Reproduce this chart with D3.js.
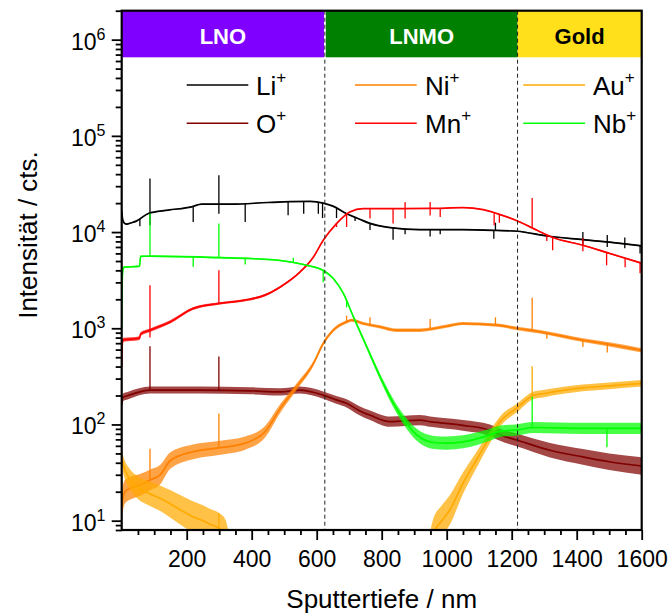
<!DOCTYPE html>
<html>
<head>
<meta charset="utf-8">
<script src="https://cdn.jsdelivr.net/npm/d3@7"></script>
<style>
  html, body { margin: 0; padding: 0; background: #fff; }
  svg { display: block; }
  text { font-family: "Liberation Sans", Arial, Helvetica, sans-serif; }
</style>
</head>
<body>
<svg id="chart" width="672" height="616"></svg>
<script>
// ---------------- DATA ----------------
const xTickValues = [200, 400, 600, 800, 1000, 1200, 1400, 1600];
const yTickExponents = [1, 2, 3, 4, 5, 6];

const layerNames  = ["LNO", "LNMO", "Gold"];
const layerBounds = [0, 625, 1218, 1600];       // nm
const layerColors = ["#8000ff", "#008000", "#ffe01a"];
const layerTextColors = ["#ffffff", "#ffffff", "#000000"];

const seriesNames  = ["Li", "O", "Ni", "Mn", "Au", "Nb"];
const seriesColors = ["#000000", "#800000", "#ff8000", "#ff0000", "#ffaa00", "#00ff00"];

// [depth nm, intensity cts]
const liData = [[0,16500],[3,13500],[8,12400],[15,12100],[30,12500],[45,13000],[82,15600],[143,16900],
  [215,18300],[246,19500],[338,19500],[450,20300],[520,20700],[580,20800],[620,20000],[650,18600],
  [692,15500],[730,13700],[764,12300],[826,11140],[918,10600],[1050,10600],[1154,10400],[1218,10200],
  [1308,9100],[1419,8350],[1500,7850],[1600,7200]];
const oData = [[0,160],[3,190],[20,200],[87,228],[241,228],[395,224],[488,218],[548,228],[620,202],
  [660,180],[692,166],[730,140],[764,125],[826,107],[918,111],[949,107],[1050,98],[1133,87],[1164,78],
  [1215,69],[1318,54],[1419,46],[1500,41],[1600,37]];
const niData = [[0,15],[10,20],[30,22],[56,23.5],[87,26.5],[118,30],[149,42],[219,52],[299,57],[380,64],
  [441,84],[488,147],[538,246],[590,431],[620,695],[651,955],[692,1165],[708,1214],[743,1122],[795,1035],
  [846,955],[918,955],[1000,1050],[1050,1120],[1155,1077],[1218,995],[1287,918],[1419,752],[1500,680],[1600,590]];
const mnData = [[0,400],[2,700],[5,760],[30,770],[55,790],[58,870],[87,955],[149,1165],[219,1600],
  [299,1810],[380,1960],[441,2210],[488,2690],[549,3850],[590,5510],[620,8220],[661,12250],[702,16180],
  [743,17540],[800,17540],[949,17600],[1050,17950],[1112,17130],[1155,15560],[1218,13040],[1278,10440],
  [1327,8770],[1419,7300],[1502,5980],[1600,4750]];
const auData = [[0,45],[5,38],[25,27],[50,22],[87,19],[120,17],[149,15],[180,13],[219,11],[250,10],
  [271,9.2],[300,8.3],[320,7],[345,3],[600,2],[930,3],[960,7.5],[985,10],[1010,13],[1050,24.5],
  [1092,43],[1133,74],[1164,107],[1218,150],[1266,200],[1300,210],[1419,240],[1500,252],[1600,268]];
const nbData = [[0,1000],[2,3500],[6,4300],[55,4420],[58,5600],[87,5610],[299,5430],[395,5310],[488,5060],
  [569,4520],[620,3990],[651,3290],[682,2300],[713,1313],[754,641],[795,313],[836,166],[877,102],[908,78],
  [960,65],[1000,64],[1050,66],[1133,78],[1164,85],[1218,88],[1266,93],[1419,91],[1600,91]];

// spikes: [depth nm, extreme intensity]
const liSpikes = [[56,11500],[87,36000],[87,11800],[220,12700],[299,39000],[299,15500],[380,12700],
  [512,15000],[560,15500],[605,15500],[618,14000],[661,14000],[718,13000],[764,10500],[835,8300],
  [872,9500],[949,9000],[980,9500],[1145,8500],[1150,12500],[1419,10000],[1419,7200],[1494,9300],
  [1494,7000],[1548,8800],[1548,6800],[1595,6000]];
const oSpikes = [[87,650],[299,510]];
const niSpikes = [[87,56],[299,130],[692,1350],[764,1300],[949,1250],[1150,1300],[1263,2080],[1308,780],[1419,640],[1494,560]];
const mnSpikes = [[87,2800],[87,800],[299,4000],[661,11300],[692,11300],[764,13800],[835,12250],
  [872,20500],[872,13800],[949,20500],[949,14900],[980,14300],[1146,11800],[1162,12500],[1263,22600],
  [1308,8090],[1326,6470],[1419,8600],[1419,6300],[1492,4520],[1549,4300],[1595,3730]];
const auSpikes = [[299,12],[1263,404]];
const nbSpikes = [[87,15600],[299,12300],[220,4340],[380,4600],[528,5400],[620,3000],[692,1650],[1263,194],[1493,58]];

const seriesData   = [liData, oData, niData, mnData, auData, nbData];
const seriesSpikes = [liSpikes, oSpikes, niSpikes, mnSpikes, auSpikes, nbSpikes];

// ---------------- LAYOUT ----------------
const L = 121.7, R = 641.7, T = 10.7, B = 530;
const bandBottom = 57.3;
const svg = d3.select("#chart");

const x = d3.scaleLinear().domain([0, 1600]).range([L, R]);
const y = d3.scaleLog().domain([8, 2e6]).range([B, T]);

svg.append("defs").append("clipPath").attr("id", "plotclip")
  .append("rect").attr("x", L).attr("y", T).attr("width", R - L).attr("height", B - T);

// layer bands
const bands = svg.append("g");
layerNames.forEach((name, i) => {
  const x0 = x(layerBounds[i]) + (i === 1 ? 1 : 0);
  const x1 = x(layerBounds[i + 1]) - (i === 0 ? 0.8 : 0);
  bands.append("rect").attr("x", x0).attr("y", T).attr("width", x1 - x0).attr("height", bandBottom - T)
    .attr("fill", layerColors[i]);
  bands.append("text").attr("x", (x0 + x1) / 2).attr("y", 44.3).attr("text-anchor", "middle")
    .attr("font-size", 22).attr("font-weight", "bold").attr("fill", layerTextColors[i]).text(name);
});

// series
const plot = svg.append("g").attr("clip-path", "url(#plotclip)");
const noise = v => Math.min(0.16, 0.55 / Math.sqrt(v));
seriesData.forEach((data, i) => {
  const col = seriesColors[i];
  const area = d3.area()
    .x(d => x(d[0]))
    .y0(d => y(d[1] * Math.pow(10, -noise(d[1]))))
    .y1(d => y(d[1] * Math.pow(10, noise(d[1]))))
    .curve(d3.curveMonotoneX);
  plot.append("path").datum(data).attr("d", area).attr("fill", col).attr("fill-opacity", 0.72);
  const line = d3.line().x(d => x(d[0])).y(d => y(d[1])).curve(d3.curveMonotoneX);
  plot.append("path").datum(data).attr("d", line).attr("fill", "none").attr("stroke", col)
    .attr("stroke-width", 1.7);
  // spikes
  const interp = d3.scaleLinear().domain(data.map(d => d[0])).range(data.map(d => Math.log10(d[1])));
  plot.append("g").selectAll("line").data(seriesSpikes[i]).join("line")
    .attr("x1", d => x(d[0])).attr("x2", d => x(d[0]))
    .attr("y1", d => y(Math.pow(10, interp(d[0])))).attr("y2", d => y(d[1]))
    .attr("stroke", col).attr("stroke-width", 1.3);
});

// dashed layer boundaries
svg.append("g").selectAll("line").data(layerBounds.slice(1, 3)).join("line")
  .attr("x1", d => x(d)).attr("x2", d => x(d)).attr("y1", T).attr("y2", B)
  .attr("stroke", "#222").attr("stroke-width", 1).attr("stroke-dasharray", "4,3");

// legend
const legendCols = [[186.7, 248.3, 256], [355, 416.7, 425], [523.3, 585, 593]];
const legendRows = [85, 123.3];
const legendOrder = [[0, 1], [2, 3], [4, 5]]; // columns: [row1, row2]
const leg = svg.append("g");
legendOrder.forEach((pair, c) => {
  pair.forEach((si, r) => {
    const [lx0, lx1, tx] = legendCols[c];
    const ly = legendRows[r];
    leg.append("line").attr("x1", lx0).attr("x2", lx1).attr("y1", ly).attr("y2", ly)
      .attr("stroke", seriesColors[si]).attr("stroke-width", 1.6);
    const t = leg.append("text").attr("x", tx).attr("y", ly + 10).attr("font-size", 26).attr("fill", "#000");
    t.append("tspan").text(seriesNames[si]);
    t.append("tspan").attr("font-size", 17).attr("dy", -12).text("+");
  });
});

// axes
const axes = svg.append("g");
const xMinor = d3.range(50, 1600, 50).filter(v => v % 200 !== 0);
axes.append("g").attr("transform", `translate(0,${B})`)
  .call(d3.axisBottom(x).tickValues(xMinor).tickSize(5).tickFormat(""))
  .call(g => g.select(".domain").remove())
  .call(g => g.selectAll("line").attr("stroke-width", 1.8));
axes.append("g").attr("transform", `translate(0,${B})`)
  .call(d3.axisBottom(x).tickValues(xTickValues).tickSize(10).tickFormat(d3.format("d")).tickPadding(11))
  .call(g => g.select(".domain").remove())
  .call(g => g.selectAll("line").attr("stroke-width", 1.8))
  .call(g => g.selectAll("text").attr("font-size", 23).attr("fill", "#000")
     .attr("font-family", '"Liberation Sans", Arial, sans-serif'));

const yMajor = yTickExponents.map(e => Math.pow(10, e));
const yMinor = [];
for (let e = 0; e <= 6; e++) for (let m = 2; m <= 9; m++) {
  const v = m * Math.pow(10, e);
  if (v >= 8 && v <= 2e6) yMinor.push(v);
}
axes.append("g").attr("transform", `translate(${L},0)`)
  .call(d3.axisLeft(y).tickValues(yMinor).tickSize(6).tickFormat(""))
  .call(g => g.select(".domain").remove())
  .call(g => g.selectAll("line").attr("stroke-width", 1.8));
axes.append("g").attr("transform", `translate(${L},0)`)
  .call(d3.axisLeft(y).tickValues(yMajor).tickSize(10).tickFormat(""))
  .call(g => g.select(".domain").remove())
  .call(g => g.selectAll("line").attr("stroke-width", 1.8));
const ylab = axes.append("g").selectAll("text").data(yTickExponents).join("text")
  .attr("x", 105.5).attr("y", e => y(Math.pow(10, e)) + 10).attr("text-anchor", "end")
  .attr("font-size", 23).attr("fill", "#000");
ylab.append("tspan").text("10");
ylab.append("tspan").attr("font-size", 16).attr("dy", -10).text(e => e);

// frame
svg.append("rect").attr("x", L).attr("y", T).attr("width", R - L).attr("height", B - T)
  .attr("fill", "none").attr("stroke", "#000").attr("stroke-width", 2.2);

// axis titles
svg.append("text").attr("x", (L + R) / 2).attr("y", 608).attr("text-anchor", "middle")
  .attr("font-size", 26).attr("fill", "#000").text("Sputtertiefe / nm");
svg.append("text").attr("transform", "translate(37,235) rotate(-90)").attr("text-anchor", "middle")
  .attr("font-size", 26).attr("fill", "#000").text("Intensität / cts.");
</script>
</body>
</html>
